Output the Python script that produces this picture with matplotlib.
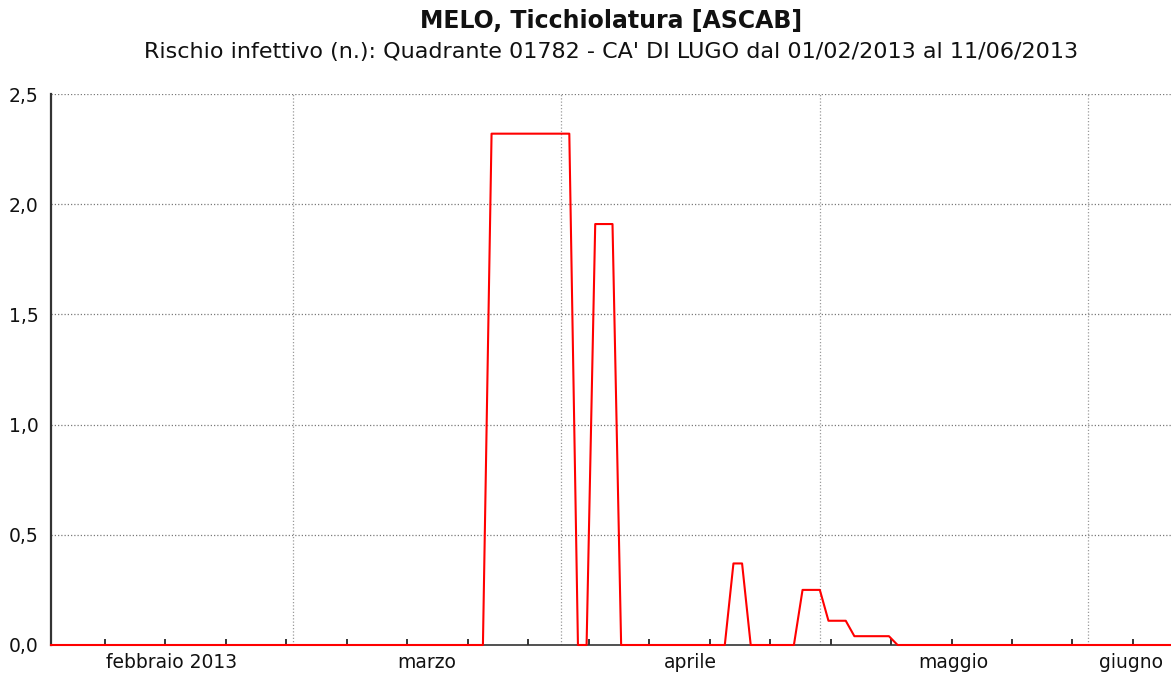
import matplotlib
matplotlib.use("Agg")
import matplotlib.pyplot as plt
import pandas as pd

# Daily infection-risk values from 01/02/2013 to 11/06/2013
start_date = "2013-02-01"
end_date = "2013-06-11"
risk_values = [
    # Feb 1 - Feb 28
    0, 0, 0, 0, 0, 0, 0, 0, 0, 0,
    0, 0, 0, 0, 0, 0, 0, 0, 0, 0,
    0, 0, 0, 0, 0, 0, 0, 0,
    # Mar 1 - Mar 31
    0, 0, 0, 0, 0, 0, 0, 0, 0, 0,
    0, 0, 0, 0, 0, 0, 0, 0, 0, 0,
    0, 0, 0, 2.32, 2.32, 2.32, 2.32, 2.32, 2.32, 2.32,
    2.32,
    # Apr 1 - Apr 30
    2.32, 2.32, 0, 0, 1.91, 1.91, 1.91, 0, 0, 0,
    0, 0, 0, 0, 0, 0, 0, 0, 0, 0,
    0.37, 0.37, 0, 0, 0, 0, 0, 0, 0.25, 0.25,
    # May 1 - May 31
    0.25, 0.11, 0.11, 0.11, 0.04, 0.04, 0.04, 0.04, 0.04, 0,
    0, 0, 0, 0, 0, 0, 0, 0, 0, 0,
    0, 0, 0, 0, 0, 0, 0, 0, 0, 0,
    0,
    # Jun 1 - Jun 11
    0, 0, 0, 0, 0, 0, 0, 0, 0, 0,
    0,
]

month_starts = ["2013-03-01", "2013-04-01", "2013-05-01", "2013-06-01"]
month_labels = ["febbraio 2013", "marzo", "aprile", "maggio", "giugno"]
yticks = [0.0, 0.5, 1.0, 1.5, 2.0, 2.5]
ytick_labels = ["0,0", "0,5", "1,0", "1,5", "2,0", "2,5"]

title = "MELO, Ticchiolatura [ASCAB]"
subtitle = "Rischio infettivo (n.): Quadrante 01782 - CA' DI LUGO dal 01/02/2013 al 11/06/2013"

dates = pd.date_range(start_date, periods=len(risk_values), freq="D")

W, H = 1171, 676
fig = plt.figure(figsize=(W / 100, H / 100), dpi=100)
plt.rcParams["font.family"] = ["DejaVu Sans"]

left_px, right_px = 51, 1174
bottom_px, top_px = 645, 94
ax = fig.add_axes([left_px / W, 1 - bottom_px / H,
                   (right_px - left_px) / W, (bottom_px - top_px) / H])

x0 = pd.Timestamp(start_date)
x1 = pd.Timestamp(end_date)
ax.set_xlim(x0, x1)
ax.set_ylim(0, 2.5)

hgrid_kw = dict(color="#7a7a7a", linewidth=0.9, linestyle=(0, (1, 1.6)), zorder=1)
vgrid_kw = dict(color="#9a9a9a", linewidth=0.9, linestyle=(0, (1, 1.6)), zorder=1)
for y in yticks[1:]:
    ax.axhline(y, **hgrid_kw)
for m in month_starts:
    ax.axvline(pd.Timestamp(m), **vgrid_kw)

ax.plot(dates, risk_values, color="#ff0000", linewidth=1.5, zorder=3, clip_on=False)

# weekly ticks (inward, no labels)
ax.xaxis.remove_overlapping_locs = False
week_ticks = pd.date_range("2013-02-07 06:00", end_date, freq="7D")
ax.set_xticks(week_ticks)
ax.set_xticklabels([])
ax.tick_params(axis="x", which="major", direction="in", length=4.5, width=1.1,
               color="black")

# month labels at centre of each month span
bounds = [x0] + [pd.Timestamp(m) for m in month_starts] + [x1]
mids = [bounds[i] + (bounds[i + 1] - bounds[i]) / 2 for i in range(len(bounds) - 1)]
ax.set_xticks(mids, minor=True)
ax.set_xticklabels(month_labels, minor=True, fontsize=13.5, color="#111111")
ax.tick_params(axis="x", which="minor", length=0, pad=6)

ax.set_yticks(yticks)
ax.set_yticklabels(ytick_labels, fontsize=13.5, color="#111111")
ax.tick_params(axis="y", length=0, pad=9)

for s in ["top", "right"]:
    ax.spines[s].set_visible(False)
ax.spines["left"].set_linewidth(1.6)
ax.spines["left"].set_color("#333333")
ax.spines["bottom"].set_linewidth(1.2)
ax.spines["bottom"].set_color("#333333")

cx = 611 / W
fig.text(cx, 1 - 21 / H, title, ha="center", va="center",
         fontsize=17, fontweight="bold", color="#111111")
fig.text(cx, 1 - 52 / H, subtitle, ha="center", va="center",
         fontsize=16, color="#111111")

fig.savefig("out.png", dpi=100)
